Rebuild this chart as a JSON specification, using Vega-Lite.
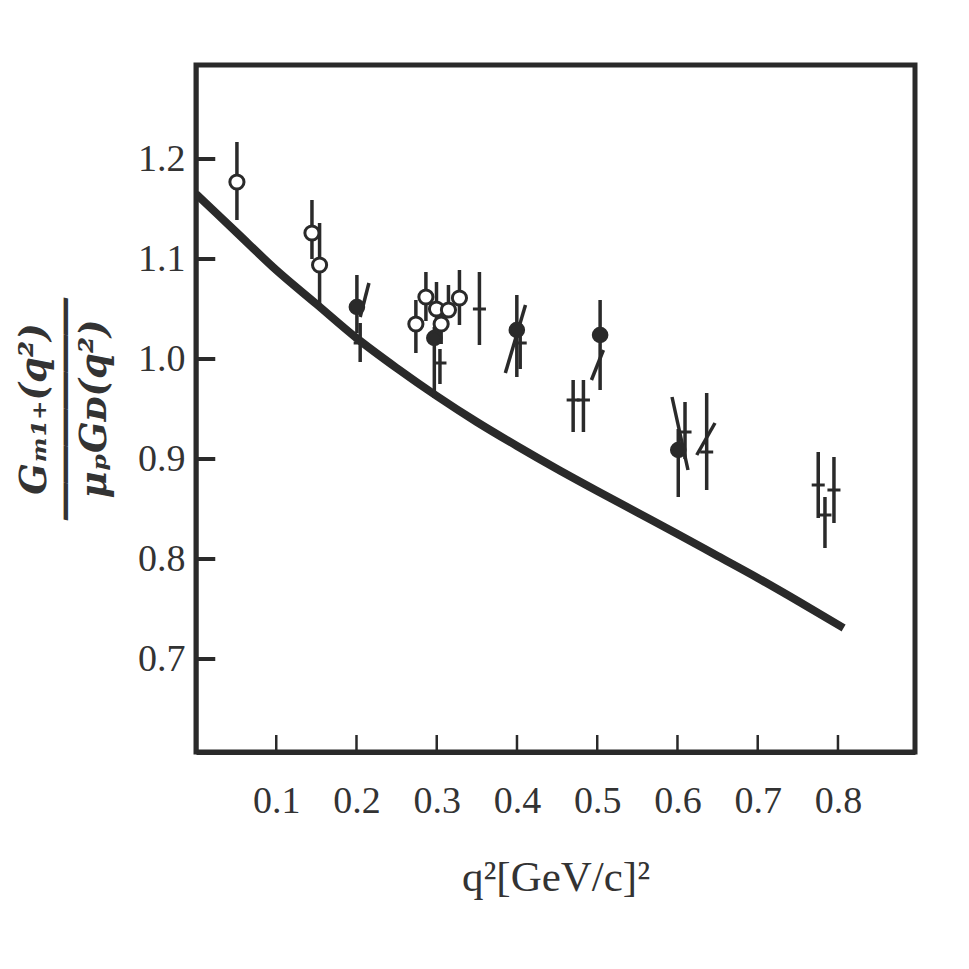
{
  "$schema": "https://vega.github.io/schema/vega-lite/v6.json",
  "autosize": "none",
  "width": 719,
  "height": 687,
  "padding": {"left": 196, "top": 65, "right": 54, "bottom": 217},
  "background": "white",
  "config": {
    "view": {"stroke": "#2a2a2a", "strokeWidth": 5},
    "axis": {"grid": false}
  },
  "datasets": {
    "curve": [
      {"q": 0.0, "r": 1.165},
      {"q": 0.05, "r": 1.127},
      {"q": 0.1, "r": 1.089},
      {"q": 0.15, "r": 1.055},
      {"q": 0.2, "r": 1.021},
      {"q": 0.25, "r": 0.991},
      {"q": 0.3, "r": 0.963},
      {"q": 0.35, "r": 0.937},
      {"q": 0.4, "r": 0.913},
      {"q": 0.45, "r": 0.89},
      {"q": 0.5, "r": 0.868},
      {"q": 0.55, "r": 0.8465},
      {"q": 0.6, "r": 0.825},
      {"q": 0.65, "r": 0.803},
      {"q": 0.7, "r": 0.781},
      {"q": 0.75, "r": 0.758},
      {"q": 0.807, "r": 0.731}
    ],
    "xticks": [{"t": 0.1}, {"t": 0.2}, {"t": 0.3}, {"t": 0.4}, {"t": 0.5}, {"t": 0.6}, {"t": 0.7}, {"t": 0.8}],
    "yticks": [{"t": 0.7}, {"t": 0.8}, {"t": 0.9}, {"t": 1.0}, {"t": 1.1}, {"t": 1.2}],
    "pts": [
      {"q": 0.051, "r": 1.177, "lo": 1.139, "hi": 1.217, "kind": "open"},
      {"q": 0.1445, "r": 1.126, "lo": 1.1, "hi": 1.159, "kind": "open"},
      {"q": 0.154, "r": 1.094, "lo": 1.052, "hi": 1.136, "kind": "open"},
      {"q": 0.2005, "r": 1.052, "lo": 1.026, "hi": 1.084, "kind": "filled"},
      {"q": 0.2046, "r": 1.016, "lo": 0.997, "hi": 1.036, "kind": "cross"},
      {"q": 0.274, "r": 1.035, "lo": 1.006, "hi": 1.059, "kind": "open"},
      {"q": 0.2865, "r": 1.062, "lo": 1.038, "hi": 1.087, "kind": "open"},
      {"q": 0.2997, "r": 1.05, "lo": 1.03, "hi": 1.077, "kind": "open"},
      {"q": 0.3055, "r": 1.035, "lo": 1.015, "hi": 1.055, "kind": "open"},
      {"q": 0.3146, "r": 1.049, "lo": 1.042, "hi": 1.074, "kind": "open"},
      {"q": 0.3283, "r": 1.061, "lo": 1.034, "hi": 1.089, "kind": "open"},
      {"q": 0.297, "r": 1.021, "lo": 0.961, "hi": 1.032, "kind": "filled"},
      {"q": 0.304, "r": 0.996, "lo": 0.975, "hi": 1.01, "kind": "cross"},
      {"q": 0.3532, "r": 1.05, "lo": 1.014, "hi": 1.087, "kind": "cross"},
      {"q": 0.3998, "r": 1.029, "lo": 0.982, "hi": 1.064, "kind": "filled"},
      {"q": 0.404, "r": 1.016, "lo": 0.99, "hi": 1.03, "kind": "cross"},
      {"q": 0.47, "r": 0.959, "lo": 0.927, "hi": 0.979, "kind": "cross"},
      {"q": 0.4828, "r": 0.959, "lo": 0.927, "hi": 0.979, "kind": "cross"},
      {"q": 0.5036, "r": 1.024, "lo": 0.969, "hi": 1.059, "kind": "filled"},
      {"q": 0.601, "r": 0.909, "lo": 0.862, "hi": 0.93, "kind": "filled"},
      {"q": 0.6094, "r": 0.927, "lo": 0.9, "hi": 0.957, "kind": "cross"},
      {"q": 0.6364, "r": 0.907, "lo": 0.869, "hi": 0.966, "kind": "cross"},
      {"q": 0.7754, "r": 0.874, "lo": 0.841, "hi": 0.907, "kind": "cross"},
      {"q": 0.7838, "r": 0.844, "lo": 0.811, "hi": 0.862, "kind": "cross"},
      {"q": 0.795, "r": 0.869, "lo": 0.836, "hi": 0.902, "kind": "cross"}
    ],
    "slant": [
      {"q": 0.2155, "r": 1.076, "q2": 0.2046, "r2": 1.042},
      {"q": 0.4106, "r": 1.054, "q2": 0.3855, "r2": 0.986},
      {"q": 0.5077, "r": 1.009, "q2": 0.4928, "r2": 0.979},
      {"q": 0.5932, "r": 0.962, "q2": 0.6131, "r2": 0.889},
      {"q": 0.6468, "r": 0.936, "q2": 0.624, "r2": 0.904}
    ]
  },
  "layer": [
    {
      "data": {"name": "curve"},
      "mark": {"type": "line", "interpolate": "monotone", "strokeWidth": 8, "color": "#2a2a2a", "clip": true},
      "encoding": {
        "x": {
          "field": "q", "type": "quantitative",
          "scale": {"domain": [0, 0.896], "nice": false, "zero": false},
          "axis": {
            "values": [0.1, 0.2, 0.3, 0.4, 0.5, 0.6, 0.7, 0.8],
            "format": ".1f",
            "domainColor": "#2a2a2a", "domainWidth": 5,
            "ticks": false,
            "labelFont": "Liberation Serif", "labelFontSize": 38, "labelColor": "#333333",
            "labelPadding": 30,
            "title": "q²[GeV/c]²",
            "titleFont": "Liberation Serif", "titleFontSize": 43, "titleFontWeight": "normal",
            "titleColor": "#333333", "titlePadding": 36
          }
        },
        "y": {
          "field": "r", "type": "quantitative",
          "scale": {"domain": [0.607, 1.294], "nice": false, "zero": false},
          "axis": {
            "values": [0.7, 0.8, 0.9, 1.0, 1.1, 1.2],
            "format": ".1f",
            "domainColor": "#2a2a2a", "domainWidth": 4,
            "ticks": false,
            "labelFont": "Liberation Serif", "labelFontSize": 38, "labelColor": "#333333",
            "labelPadding": 11,
            "title": ["Gₘ₁₊(q²)", "――――――", "μₚGᴅ(q²)"],
            "titleFont": "DejaVu Serif", "titleFontSize": 37, "titleFontWeight": "bold",
            "titleFontStyle": "italic", "titleLineHeight": 30,
            "titleColor": "#333333", "titlePadding": 24
          }
        }
      }
    },
    {
      "data": {"name": "xticks"},
      "mark": {"type": "rule", "strokeWidth": 2.5, "color": "#2a2a2a"},
      "encoding": {
        "x": {"field": "t", "type": "quantitative"},
        "y": {"datum": 0.607},
        "y2": {"datum": 0.624}
      }
    },
    {
      "data": {"name": "yticks"},
      "mark": {"type": "rule", "strokeWidth": 4, "color": "#2a2a2a"},
      "encoding": {
        "y": {"field": "t", "type": "quantitative"},
        "x": {"datum": 0},
        "x2": {"datum": 0.024}
      }
    },
    {
      "data": {"name": "pts"},
      "mark": {"type": "rule", "strokeWidth": 3.5, "color": "#2a2a2a"},
      "encoding": {
        "x": {"field": "q", "type": "quantitative"},
        "y": {"field": "lo", "type": "quantitative"},
        "y2": {"field": "hi"}
      }
    },
    {
      "data": {"name": "slant"},
      "mark": {"type": "rule", "strokeWidth": 3.5, "color": "#2a2a2a"},
      "encoding": {
        "x": {"field": "q", "type": "quantitative"},
        "y": {"field": "r", "type": "quantitative"},
        "x2": {"field": "q2"},
        "y2": {"field": "r2"}
      }
    },
    {
      "data": {"name": "pts"},
      "mark": {"type": "point", "filled": true, "stroke": "#2a2a2a", "strokeWidth": 3, "opacity": 1},
      "encoding": {
        "x": {"field": "q", "type": "quantitative"},
        "y": {"field": "r", "type": "quantitative"},
        "shape": {
          "field": "kind", "type": "nominal", "legend": null,
          "scale": {"domain": ["open", "filled", "cross"], "range": ["circle", "circle", "M-1,0H1"]}
        },
        "fill": {
          "field": "kind", "type": "nominal", "legend": null,
          "scale": {"domain": ["open", "filled", "cross"], "range": ["#ffffff", "#2a2a2a", "#2a2a2a"]}
        },
        "size": {
          "field": "kind", "type": "nominal", "legend": null,
          "scale": {"domain": ["open", "filled", "cross"], "range": [200, 170, 130]}
        }
      }
    }
  ]
}
